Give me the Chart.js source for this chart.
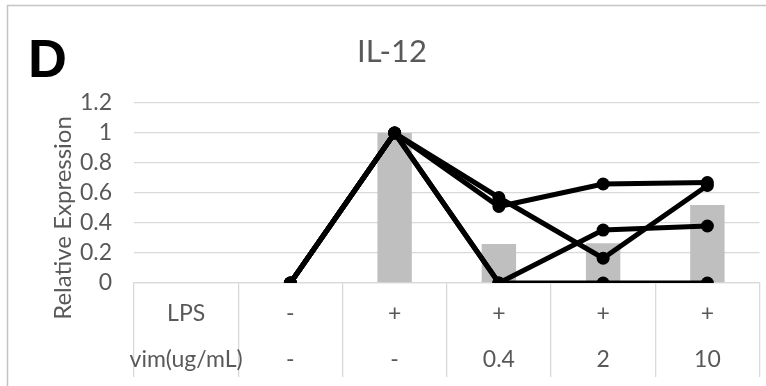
<!DOCTYPE html>
<html>
<head>
<meta charset="utf-8">
<script src="https://cdn.jsdelivr.net/npm/chart.js@4/dist/chart.umd.min.js"></script>
<style>
  body { margin: 0; background: #fff; }
</style>
</head>
<body>
<canvas id="chart" width="766" height="386"></canvas>
<script>
// table rows under the chart (first column is the row header)
const lpsRow = ["LPS", "-", "+", "+", "+", "+"];
const vimRow = ["vim(ug/mL)", "-", "-", "0.4", "2", "10"];
const labels = lpsRow.map((v, i) => [v, vimRow[i]]);

// mean bars
const meanValues = [null, 0, 1, 0.26, 0.265, 0.52];

// individual experiments
const exp1 = [null, 0, 1, 0.51, 0.66, 0.67];
const exp2 = [null, 0, 1, 0.57, 0.165, 0.65];
const exp3 = [null, 0, 1, 0, 0.353, 0.38];
const exp4 = [null, 0, 1, 0, 0, 0];

const yTicks = [0, 0.2, 0.4, 0.6, 0.8, 1, 1.2];
const yTickLabels = ["0", "0.2", "0.4", "0.6", "0.8", "1", "1.2"];

const chartTitle = "IL-12";
const yTitle = "Relative Expression";
const panelLetter = "D";

const textColor = "#595959";
const gridColor = "#d9d9d9";
const fontFamily = "Lato, 'Open Sans', sans-serif";

function lineSet(values) {
  return {
    type: "line",
    data: values,
    borderColor: "#000",
    backgroundColor: "#000",
    borderWidth: 5,
    pointRadius: 6.5,
    pointBorderWidth: 0,
    pointBackgroundColor: "#000",
    order: 1,
  };
}

// frame, panel letter, title and y title
const decor = {
  id: "decor",
  beforeDraw(chart) {
    const ctx = chart.ctx;
    ctx.save();
    ctx.fillStyle = "#fff";
    ctx.fillRect(0, 0, chart.width, chart.height);
    ctx.strokeStyle = "#c4c4c4";
    ctx.lineWidth = 1.5;
    ctx.beginPath();
    ctx.moveTo(7.5, chart.height);
    ctx.lineTo(7.5, 5.5);
    ctx.lineTo(chart.width, 5.5);
    ctx.stroke();
    ctx.restore();
  },
  afterDraw(chart) {
    const ctx = chart.ctx;
    ctx.save();
    ctx.fillStyle = "#000";
    ctx.font = "bold 54px 'Liberation Sans', Arial, sans-serif";
    ctx.textAlign = "left";
    ctx.textBaseline = "alphabetic";
    ctx.fillText(panelLetter, 28, 77);

    ctx.fillStyle = textColor;
    ctx.font = "31px " + fontFamily;
    ctx.textAlign = "center";
    ctx.fillText(chartTitle, 392, 61.5);

    ctx.font = "24px " + fontFamily;
    ctx.translate(71, 218);
    ctx.rotate(-Math.PI / 2);
    ctx.fillText(yTitle, 0, 0);
    ctx.restore();
  },
};

const config = {
  type: "bar",
  data: {
    labels: labels,
    datasets: [
      {
        type: "bar",
        data: meanValues,
        backgroundColor: "#bfbfbf",
        barPercentage: 0.33,
        categoryPercentage: 1,
        order: 2,
      },
      lineSet(exp1),
      lineSet(exp2),
      lineSet(exp3),
      lineSet(exp4),
    ],
  },
  options: {
    responsive: false,
    devicePixelRatio: 1,
    animation: false,
    layout: { padding: { top: 103 } },
    plugins: {
      legend: { display: false },
      tooltip: { enabled: false },
    },
    scales: {
      x: {
        offset: true,
        grid: {
          offset: true,
          drawOnChartArea: false,
          drawTicks: true,
          tickLength: 94,
          color: gridColor,
          lineWidth: 1.3,
        },
        border: { display: true, color: gridColor, width: 1.3 },
        ticks: {
          autoSkip: false,
          maxRotation: 0,
          color: textColor,
          font: { family: fontFamily, size: 23, lineHeight: "46px" },
          padding: -86,
        },
        afterFit: function (scale) {
          scale.height = 103;
        },
      },
      y: {
        min: 0,
        max: 1.2,
        afterBuildTicks: function (scale) {
          scale.ticks = yTicks.map((v) => ({ value: v }));
        },
        grid: { color: gridColor, lineWidth: 1.3, drawTicks: false },
        border: { display: false },
        ticks: {
          autoSkip: false,
          color: textColor,
          font: { family: fontFamily, size: 23, lineHeight: 1 },
          padding: 22,
          callback: function (value, index) {
            return yTickLabels[index];
          },
        },
        afterFit: function (scale) {
          scale.width = 134;
        },
      },
    },
  },
  plugins: [decor],
};

new Chart("chart", config);
</script>
</body>
</html>
